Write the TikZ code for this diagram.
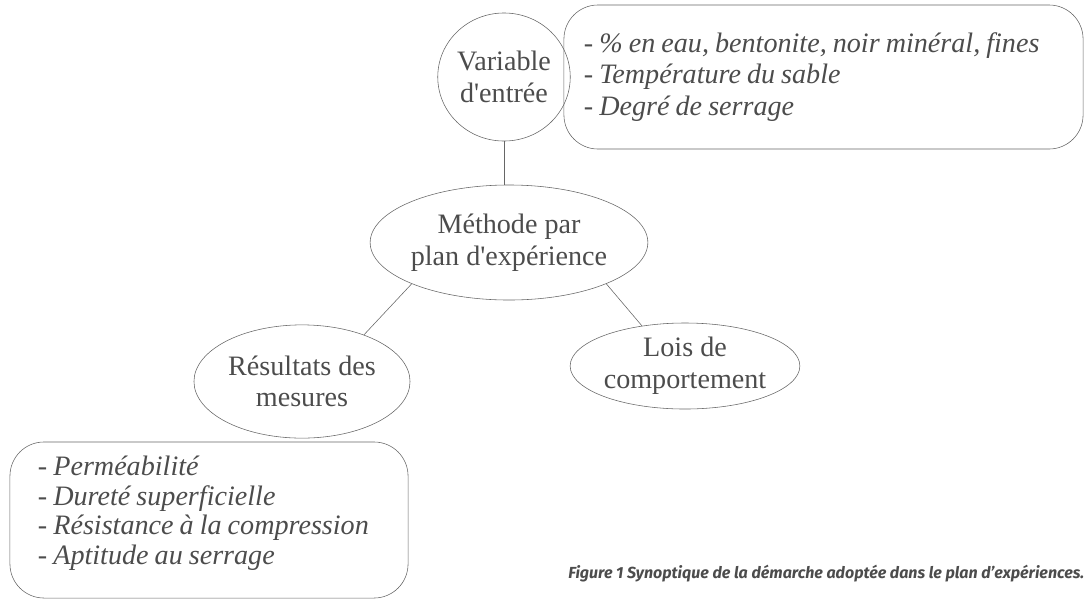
\documentclass[tikz,border=0pt]{standalone}
\usepackage{fontspec}
\setmainfont{Liberation Serif}
\newfontfamily\legendefont{Fira Sans}
\usetikzlibrary{shapes.geometric}
\definecolor{gristexte}{gray}{0.3}
\definecolor{gristrait}{gray}{0.4}
\newcommand\espaceserre{\spaceskip=0.215em plus 0.05em\relax}
\begin{document}
\begin{tikzpicture}[x=0.025cm, y=-0.025cm,
    bulle/.style={draw=gristrait, ellipse, inner sep=0pt, align=center, text=gristexte, font=\fontsize{20}{22.5}\selectfont},
    liste/.style={draw=gristrait, rounded corners=0.85cm, inner ysep=0pt, align=flush left, text=gristexte, font=\fontsize{20}{22.3}\selectfont\itshape\espaceserre},
    lien/.style={draw=gristrait}]
    \useasboundingbox (0,0) rectangle (1084,600);

    % Bulles
    \node[bulle, minimum width=3.15cm, minimum height=3.2cm] (var) at (504,77) {Variable\\d\textquotesingle entrée};
    \node[bulle, minimum width=6.55cm, minimum height=2.875cm] (meth) at (509,242.5) {Méthode par\\plan d\textquotesingle expérience};
    \node[bulle, minimum width=5.4cm, minimum height=2.83cm] (res) at (302,381.5) {Résultats des\\mesures};
    \node[bulle, minimum width=4.9cm, minimum height=2.15cm] (lois) at (685,366) {Lois de\\comportement};

    % Listes
    \node[liste, inner xsep=0.5cm, text width=11.975cm, minimum height=3.6cm] (entrees) at (823.5,77) {- \% en eau, bentonite, noir minéral, fines\\- Température du sable\\- Degré de serrage};
    \node[liste, inner xsep=0.7cm, text width=8.55cm, minimum height=3.9cm, font=\fontsize{20}{21}\selectfont\itshape\espaceserre] (mesures) at (209,520) {- Perméabilité\\- Dureté superficielle\\- Résistance à la compression\\- Aptitude au serrage\rule[-0.5cm]{0pt}{0pt}};

    % Liens
    \draw[lien] (var.south) -- (var.south |- meth.north);
    \draw[lien] (meth.203) -- (res.37);
    \draw[lien] (meth.337) -- (lois.137);

    % Légende
    \node[anchor=base west, inner sep=0pt, text=gristexte, font=\legendefont\bfseries\itshape\fontsize{11.4}{13}\selectfont] (legende) at (568,578) {Figure 1 Synoptique de la démarche adoptée dans le plan d’expériences.};
\end{tikzpicture}
\end{document}
